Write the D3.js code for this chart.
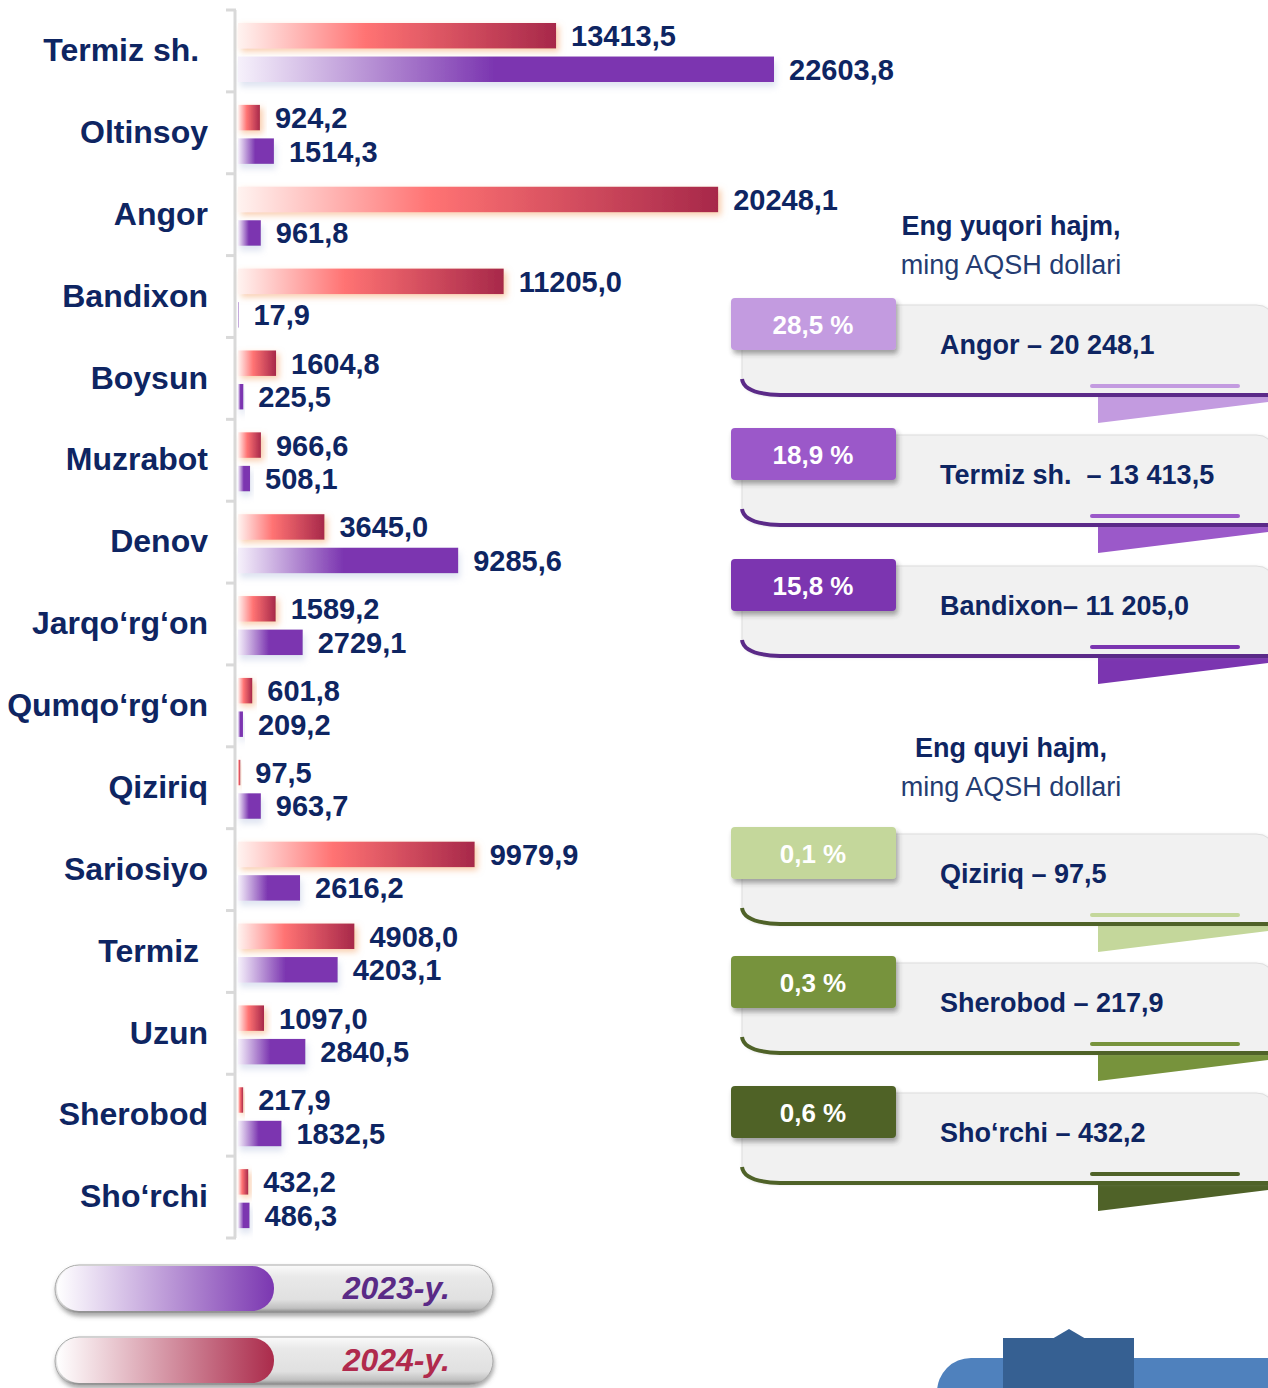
<!DOCTYPE html>
<html>
<head>
<meta charset="utf-8">
<script src="https://cdn.jsdelivr.net/npm/d3@7"></script>
<style>
  html, body { margin: 0; padding: 0; background: #ffffff; }
  svg { display: block; font-family: "Liberation Sans", Arial, sans-serif; }
  .pre { white-space: pre; }
</style>
</head>
<body>
<svg id="chart" width="1268" height="1388"></svg>
<script>
// Export volume by district, thousand USD
const categories = ["Termiz sh. ", "Oltinsoy", "Angor", "Bandixon", "Boysun", "Muzrabot", "Denov",
  "Jarqo‘rg‘on", "Qumqo‘rg‘on", "Qiziriq", "Sariosiyo", "Termiz ", "Uzun", "Sherobod", "Sho‘rchi"];
const values2024 = [13413.5, 924.2, 20248.1, 11205.0, 1604.8, 966.6, 3645.0, 1589.2, 601.8, 97.5,
  9979.9, 4908.0, 1097.0, 217.9, 432.2];
const values2023 = [22603.8, 1514.3, 961.8, 17.9, 225.5, 508.1, 9285.6, 2729.1, 209.2, 963.7,
  2616.2, 4203.1, 2840.5, 1832.5, 486.3];
const seriesNames = ["2024-y.", "2023-y."];

// Side panels: highest and lowest volumes
const topTitle = ["Eng yuqori hajm,", "ming AQSH dollari"];
const topShares = ["28,5 %", "18,9 %", "15,8 %"];
const topLabels = ["Angor – 20 248,1", "Termiz sh.  – 13 413,5", "Bandixon– 11 205,0"];
const lowTitle = ["Eng quyi hajm,", "ming AQSH dollari"];
const lowShares = ["0,1 %", "0,3 %", "0,6 %"];
const lowLabels = ["Qiziriq – 97,5", "Sherobod – 217,9", "Sho‘rchi – 432,2"];

const navy = "#0e2562";
const fmt = d3.formatLocale({decimal: ",", thousands: " ", grouping: [3]}).format(".1f");

const svg = d3.select("#chart");
const defs = svg.append("defs");

function hGrad(id, stops) {
  const g = defs.append("linearGradient").attr("id", id)
    .attr("x1", 0).attr("y1", 0).attr("x2", 1).attr("y2", 0);
  stops.forEach(([o, c]) => g.append("stop").attr("offset", o).attr("stop-color", c));
}
function vGrad(id, stops) {
  const g = defs.append("linearGradient").attr("id", id)
    .attr("x1", 0).attr("y1", 0).attr("x2", 0).attr("y2", 1);
  stops.forEach(([o, c]) => g.append("stop").attr("offset", o).attr("stop-color", c));
}
function shadow(id, dx, dy, sd, color, op) {
  defs.append("filter").attr("id", id)
    .attr("x", "-30%").attr("y", "-40%").attr("width", "160%").attr("height", "200%")
    .append("feDropShadow").attr("dx", dx).attr("dy", dy).attr("stdDeviation", sd)
    .attr("flood-color", color).attr("flood-opacity", op);
}

hGrad("grad2024", [[0, "#fff3f0"], [0.4, "#ff7373"], [1, "#a7284a"]]);
hGrad("grad2023", [[0, "#f6f1fb"], [0.48, "#7b35b0"], [1, "#7b35b0"]]);
hGrad("legend2023", [[0, "#ffffff"], [1, "#7b37b1"]]);
hGrad("legend2024", [[0, "#ffffff"], [1, "#ab2b4b"]]);
vGrad("pillGray", [[0, "#fbfbfb"], [0.25, "#e9e9e9"], [0.72, "#e0e0e0"], [0.9, "#c0c0c0"], [1, "#7e7e7e"]]);
shadow("glowRed", 3, 3, 3, "#f4a46a", 0.55);
shadow("shadowPurple", 2, 5, 3, "#b8c3e0", 0.45);
shadow("tabShadow", 2, 4, 2.5, "#3a3a3a", 0.45);
shadow("panelShadow", 1, 1, 1.5, "#9a9a9a", 0.35);
shadow("pillShadow", 1, 3, 2, "#555555", 0.5);

// ---- Bar chart ----
const y = d3.scaleBand().domain(categories).range([10, 1238]);
const inner = d3.scaleBand().domain(seriesNames).range([13, 72]).paddingInner(0.24);
const x = d3.scaleLinear().domain([0, 25000]).range([238, 238 + 25000 * 0.023713]);

// axis line with separators
const axisX = 235;
const axis = svg.append("g").attr("stroke", "#d9d9d9").attr("stroke-width", 3);
axis.append("line").attr("x1", axisX).attr("x2", axisX).attr("y1", y.range()[0]).attr("y2", y.range()[1]);
const sepYs = categories.map(c => y(c)).concat([y.range()[1]]);
axis.selectAll("line.sep").data(sepYs).join("line").attr("class", "sep")
  .attr("x1", axisX - 9).attr("x2", axisX + 1).attr("y1", d => d).attr("y2", d => d);

const rows = categories.map((c, i) => ({cat: c, v2024: values2024[i], v2023: values2023[i]}));

const rowG = svg.append("g").selectAll("g").data(rows).join("g")
  .attr("transform", d => `translate(0,${y(d.cat)})`);

// category names
rowG.append("text").attr("class", "pre")
  .attr("x", 208).attr("y", y.bandwidth() / 2 - 1).attr("dy", "0.35em")
  .attr("text-anchor", "end").attr("font-size", 32).attr("font-weight", "bold")
  .attr("fill", navy).text(d => d.cat);

const seriesDefs = [
  {name: "2024-y.", key: "v2024", fill: "url(#grad2024)", filter: "url(#glowRed)"},
  {name: "2023-y.", key: "v2023", fill: "url(#grad2023)", filter: "url(#shadowPurple)"}
];

seriesDefs.forEach(s => {
  rowG.append("rect")
    .attr("x", x(0)).attr("y", inner(s.name))
    .attr("width", d => Math.max(0, x(d[s.key]) - x(0)))
    .attr("height", inner.bandwidth())
    .attr("fill", s.fill).attr("filter", s.filter);
  rowG.append("text")
    .attr("x", d => x(d[s.key]) + 15)
    .attr("y", inner(s.name) + inner.bandwidth() / 2).attr("dy", "0.36em")
    .attr("font-size", 29).attr("font-weight", "bold").attr("fill", navy)
    .text(d => fmt(d[s.key]));
});

// ---- Side panels ----
function panelTitle(lines, cy) {
  svg.append("text").attr("x", 1011).attr("y", cy).attr("dy", "0.35em").attr("text-anchor", "middle")
    .attr("font-size", 27).attr("font-weight", "bold").attr("fill", navy).text(lines[0]);
  svg.append("text").attr("x", 1011).attr("y", cy + 39).attr("dy", "0.35em").attr("text-anchor", "middle")
    .attr("font-size", 27).attr("fill", "#243c72").text(lines[1]);
}

function panel(t, color, dark, share, label) {
  const g = svg.append("g");
  // wedge under the card
  g.append("path")
    .attr("d", `M1098,${t + 99} L1268,${t + 99} L1268,${t + 104} L1098,${t + 125} Z`)
    .attr("fill", color);
  // card body
  g.append("path")
    .attr("d", `M742,${t + 7} H1256 Q1272,${t + 7} 1272,${t + 23} V${t + 97} H778 Q742,${t + 97} 742,${t + 80} Z`)
    .attr("fill", "#f1f1f1").attr("stroke", "#dedede").attr("stroke-width", 1)
    .attr("filter", "url(#panelShadow)");
  // dark bottom edge
  g.append("path")
    .attr("d", `M742,${t + 81} Q744,${t + 96} 780,${t + 97} H1272`)
    .attr("fill", "none").attr("stroke", dark).attr("stroke-width", 4);
  // accent line
  g.append("line").attr("x1", 1092).attr("x2", 1238).attr("y1", t + 88).attr("y2", t + 88)
    .attr("stroke", color).attr("stroke-width", 4).attr("stroke-linecap", "round");
  // share tab
  g.append("rect").attr("x", 731).attr("y", t).attr("width", 165).attr("height", 52).attr("rx", 4)
    .attr("fill", color).attr("filter", "url(#tabShadow)");
  g.append("text").attr("x", 813).attr("y", t + 27).attr("dy", "0.35em").attr("text-anchor", "middle")
    .attr("font-size", 26).attr("font-weight", "bold").attr("fill", "#ffffff").text(share);
  g.append("text").attr("class", "pre").attr("x", 940).attr("y", t + 47).attr("dy", "0.35em")
    .attr("font-size", 27).attr("font-weight", "bold").attr("fill", navy).text(label);
}

panelTitle(topTitle, 226);
const topColors = ["#c39be0", "#9b59c9", "#7b35b0"];
const topTops = [298, 428, 559];
topShares.forEach((s, i) => panel(topTops[i], topColors[i], "#5b2a88", s, topLabels[i]));

panelTitle(lowTitle, 748);
const lowColors = ["#c4d79b", "#77933c", "#4f6228"];
const lowTops = [827, 956, 1086];
lowShares.forEach((s, i) => panel(lowTops[i], lowColors[i], "#4f6228", s, lowLabels[i]));

// ---- Legend ----
const legend = [
  {name: "2023-y.", top: 1265, grad: "url(#legend2023)", color: "#5a2a86"},
  {name: "2024-y.", top: 1337, grad: "url(#legend2024)", color: "#b02a4d"}
];
const lg = svg.append("g").selectAll("g").data(legend).join("g");
lg.append("rect").attr("x", 55).attr("y", d => d.top).attr("width", 438).attr("height", 48).attr("rx", 24)
  .attr("fill", "url(#pillGray)").attr("stroke", "#a9a9a9").attr("stroke-width", 1)
  .attr("filter", "url(#pillShadow)");
lg.append("rect").attr("x", 57).attr("y", d => d.top + 1).attr("width", 217).attr("height", 45).attr("rx", 22)
  .attr("fill", d => d.grad);
lg.append("text").attr("x", 450).attr("y", d => d.top + 22).attr("dy", "0.36em").attr("text-anchor", "end")
  .attr("font-size", 32).attr("font-weight", "bold").attr("font-style", "italic")
  .attr("fill", d => d.color).text(d => d.name);

// ---- Decorative shapes, lower right ----
svg.append("rect").attr("x", 937).attr("y", 1358).attr("width", 400).attr("height", 80).attr("rx", 34)
  .attr("fill", "#4f81bd");
svg.append("rect").attr("x", 1003).attr("y", 1338).attr("width", 131).attr("height", 60).attr("fill", "#366092");
svg.append("path").attr("d", "M1052,1339 L1069,1329 L1086,1339 Z").attr("fill", "#366092");
</script>
</body>
</html>
